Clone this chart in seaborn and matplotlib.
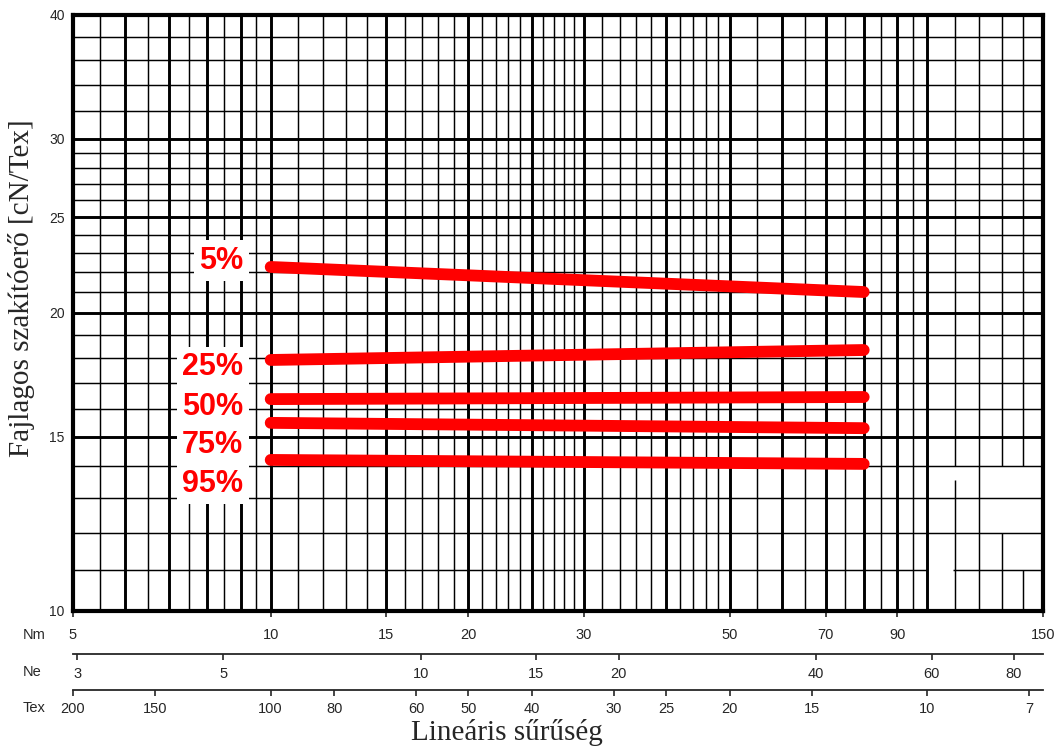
import numpy as np
import pandas as pd
import matplotlib
matplotlib.use("Agg")
import matplotlib.pyplot as plt
import seaborn as sns
from matplotlib.ticker import NullLocator, FixedLocator, FixedFormatter

# ---------------- data ----------------
percentiles = ["5%", "25%", "50%", "75%", "95%"]
nm_points = [10, 80]                      # Nm at start / end of each line
strength_start = [22.26, 17.93, 16.37, 15.49, 14.21]
strength_end = [21.0, 18.35, 16.45, 15.30, 14.08]

nm_ticks = [5, 10, 15, 20, 30, 50, 70, 90, 150]
ne_ticks = [3, 5, 10, 15, 20, 40, 60, 80]
tex_ticks = [200, 150, 100, 80, 60, 50, 40, 30, 25, 20, 15, 10, 7]
y_ticks = [10, 15, 20, 25, 30, 40]

x_grid_major = [6, 7, 8, 9, 10, 15, 20, 25, 30, 40, 50, 60, 70, 80, 90, 100]
x_grid_minor = [5.5, 6.5, 7.5, 8.5, 9.5, 11, 12, 13, 14, 16, 17, 18, 19,
                21, 22, 23, 24, 26, 27, 28, 29, 32, 34, 36, 38, 42, 44, 46, 48,
                55, 65, 75, 85, 95, 110, 120, 130, 140]
y_grid_major = [15, 20, 25, 30]
y_grid_minor = [11, 12, 13, 14, 16, 17, 18, 19, 21, 22, 23, 24,
                26, 27, 28, 29, 32, 34, 36, 38]

NE_PER_NM = 1 / 1.693   # English cotton count conversion

df = pd.DataFrame({
    "Nm": nm_points * len(percentiles),
    "strength": [v for pair in zip(strength_start, strength_end) for v in pair],
    "pct": [p for p in percentiles for _ in nm_points],
})

# ---------------- style ----------------
sns.set_style("white")
plt.rcParams["font.family"] = ["Liberation Sans", "DejaVu Sans"]

W, H = 1057, 749
fig = plt.figure(figsize=(W / 100, H / 100), dpi=100)
ax = fig.add_axes([73 / W, (H - 611) / H, 970 / W, 596 / H])
ax.set_xscale("log")
ax.set_yscale("log")

# ---------------- grid (log paper) ----------------
XMIN, XMAX, YMIN, YMAX = 5, 150, 10, 40
thin, thick = 1.05, 2.1
# small defects of the printed paper in the lower-right corner
v_gaps = {110: (13.56, 14), 130: (12, 14), 140: (11, 14)}
h_gaps = {11: (100, 109.4)}

for xv in x_grid_minor + x_grid_major:
    lw = thick if xv in x_grid_major else thin
    if xv in v_gaps:
        lo, hi = v_gaps[xv]
        ax.vlines([xv, xv], [YMIN, hi], [lo, YMAX], colors="black", lw=lw, zorder=1)
    else:
        ax.vlines(xv, YMIN, YMAX, colors="black", lw=lw, zorder=1)
for yv in y_grid_minor + y_grid_major:
    lw = thick if yv in y_grid_major else thin
    if yv in h_gaps:
        lo, hi = h_gaps[yv]
        ax.hlines([yv, yv], [XMIN, hi], [lo, XMAX], colors="black", lw=lw, zorder=1)
    else:
        ax.hlines(yv, XMIN, XMAX, colors="black", lw=lw, zorder=1)

# ---------------- data lines ----------------
sns.lineplot(data=df, x="Nm", y="strength", hue="pct",
             palette=["#ff0000"] * len(percentiles), linewidth=8.5,
             solid_capstyle="round", legend=False, ax=ax, zorder=3)

ax.set_xlim(XMIN, XMAX)
ax.set_ylim(YMIN, YMAX)
ax.set_xlabel("")
ax.set_ylabel("")

# percentile labels on white patches
label_x = 9.08
label_baseline = [22.16, 17.31, 15.78, 14.44, 13.19]
for txt, yb in zip(percentiles, label_baseline):
    ax.text(label_x, yb, txt, ha="right", va="baseline", color="#ff0000",
            fontsize=22, fontweight="bold", zorder=4,
            bbox=dict(facecolor="white", edgecolor="none", pad=4))

# ---------------- spines & ticks ----------------
for s in ax.spines.values():
    s.set_linewidth(3)
    s.set_color("black")
    s.set_zorder(2.5)

ax.xaxis.set_major_locator(FixedLocator(nm_ticks))
ax.xaxis.set_major_formatter(FixedFormatter([str(t) for t in nm_ticks]))
ax.xaxis.set_minor_locator(NullLocator())
ax.yaxis.set_major_locator(FixedLocator(y_ticks))
ax.yaxis.set_major_formatter(FixedFormatter([str(t) for t in y_ticks]))
ax.yaxis.set_minor_locator(NullLocator())
ax.tick_params(axis="x", which="major", direction="out", length=4, width=1.2,
               pad=8, labelsize=10.5, bottom=True)
ax.tick_params(axis="y", which="major", length=0, pad=6, labelsize=10)


def nm2ne(x):
    return np.asarray(x, dtype=float) * NE_PER_NM


def ne2nm(x):
    return np.asarray(x, dtype=float) / NE_PER_NM


def nm2tex(x):
    x = np.asarray(x, dtype=float)
    return 1000.0 / np.where(x == 0, 1e-12, x)


sec_ne = ax.secondary_xaxis((611 - 653.5) / 596, functions=(nm2ne, ne2nm))
sec_tex = ax.secondary_xaxis((611 - 690) / 596, functions=(nm2tex, nm2tex))
for sec, ticks, pad in ((sec_ne, ne_ticks, 5), (sec_tex, tex_ticks, 4)):
    sec.xaxis.set_major_locator(FixedLocator(ticks))
    sec.xaxis.set_major_formatter(FixedFormatter([str(t) for t in ticks]))
    sec.xaxis.set_minor_locator(NullLocator())
    sec.tick_params(axis="x", which="major", direction="out", length=4.5,
                    width=1.2, pad=pad, labelsize=10.5)
    sec.spines["bottom"].set_linewidth(1.3)

# scale names on the left
for name, yb in (("Nm", 639), ("Ne", 676), ("Tex", 711.5)):
    fig.text(23 / W, 1 - yb / H, name, ha="left", va="baseline", fontsize=10.5)

# axis titles
fig.text(22 / W, 1 - 288.5 / H, "Fajlagos szakítóerő [cN/Tex]", rotation=90,
         ha="center", va="center", fontsize=21,
         family=["Liberation Serif", "DejaVu Serif"])
fig.text(507 / W, 1 - 740 / H, "Lineáris sűrűség", ha="center", va="baseline",
         fontsize=21, family=["Liberation Serif", "DejaVu Serif"])

fig.savefig("out.png", dpi=100)
